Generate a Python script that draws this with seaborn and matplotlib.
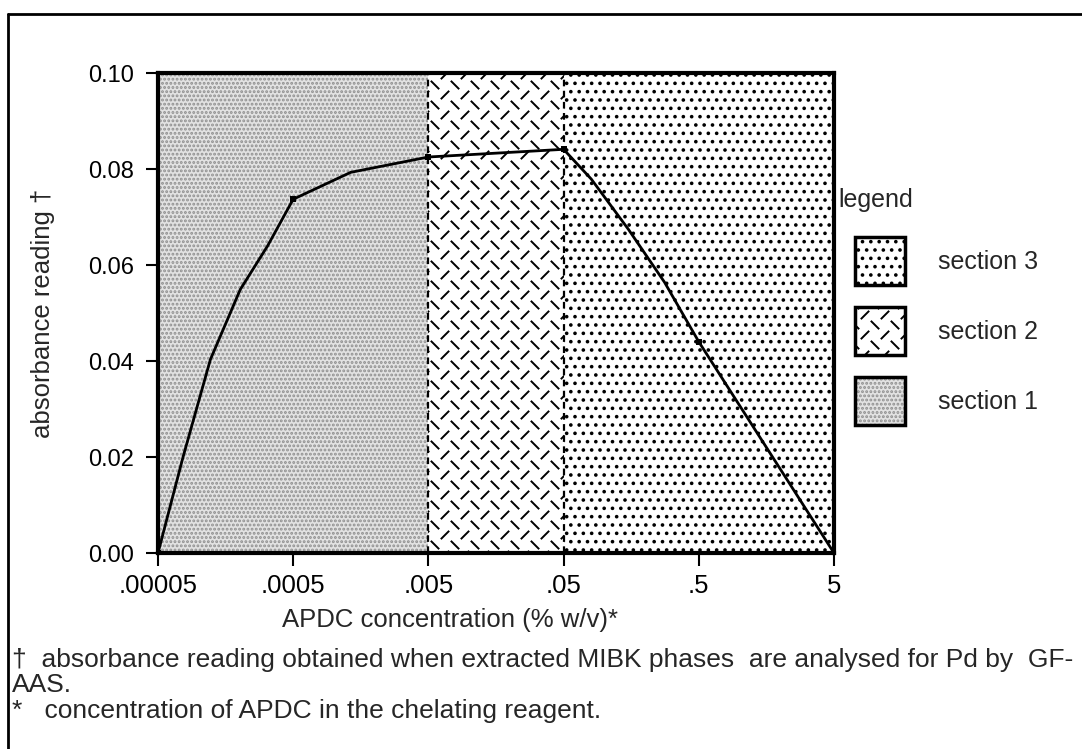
import numpy as np
import matplotlib
matplotlib.use("Agg")
import matplotlib.pyplot as plt
import seaborn as sns
from matplotlib import hatch as mhatch
from matplotlib.path import Path
from matplotlib.patches import Patch
from matplotlib.lines import Line2D
from matplotlib.legend_handler import HandlerTuple

# measured points
conc = [0.00005, 0.0005, 0.005, 0.05, 0.5, 5]
absorbance = [0.0, 0.0737, 0.0825, 0.0841, 0.0440, 0.0]

# the hand drawn curve
curve_conc = [0.00005, 0.0000766, 0.000122, 0.000203, 0.000322, 0.0005,
              0.00133, 0.005, 0.05, 0.0801, 0.151, 0.279, 0.5, 5]
curve_abs = [0.0, 0.0200, 0.0403, 0.0549, 0.0639, 0.0737,
             0.0793, 0.0825, 0.0841, 0.0779, 0.0674, 0.0564, 0.0440, 0.0]

section_edges = [0.00005, 0.005, 0.05, 5]
section_names = ["section 1", "section 2", "section 3"]

x_ticks = [0.00005, 0.0005, 0.005, 0.05, 0.5, 5]
x_tick_labels = [".00005", ".0005", ".005", ".05", ".5", "5"]
y_ticks = [0.0, 0.02, 0.04, 0.06, 0.08, 0.10]


class DashHatch(mhatch.HatchPatternBase):
    """Herringbone of short / and \\ dashes, takes the place of the '*' hatch."""

    def __init__(self, hatch, density):
        self.n = int(round(hatch.count("*") * density * 5 / 6))
        self.num_vertices = 4 * self.n * self.n

    def set_vertices_and_codes(self, vertices, codes):
        n = self.n
        d = 0.175 / n
        k = 0
        for i in range(n):
            for j in range(n):
                for off, s in ((0.25, 1), (0.75, -1)):
                    cx, cy = (i + off) / n, (j + off) / n
                    vertices[k] = (cx - d, cy - s * d)
                    vertices[k + 1] = (cx + d, cy + s * d)
                    codes[k] = Path.MOVETO
                    codes[k + 1] = Path.LINETO
                    k += 2


mhatch._hatch_types = [DashHatch if t is mhatch.Stars else t for t in mhatch._hatch_types]

sns.set_style("ticks")
plt.rcParams["font.family"] = ["Liberation Sans", "DejaVu Sans"]
plt.rcParams["hatch.linewidth"] = 1.4
FS = 17

grey_face = "#e2e2e2"
grey_dot = "#909090"
styles = [
    dict(facecolor=grey_face, edgecolor=grey_dot, hatch="...."),
    dict(facecolor="white", edgecolor="black", hatch="*"),
    dict(facecolor="white", edgecolor="black", hatch=".."),
]

fig = plt.figure(figsize=(10.82, 7.49), dpi=100)
ax = fig.add_axes([158 / 1082, 1 - 553 / 749, 676 / 1082, 480 / 749])

for k, st in enumerate(styles):
    ax.axvspan(section_edges[k], section_edges[k + 1], lw=0, zorder=0, **st)
for x in section_edges[1:-1]:
    ax.axvline(x, color="black", lw=1.6, ls=(0, (3, 2)), zorder=1)

sns.lineplot(x=curve_conc, y=curve_abs, sort=False, estimator=None,
             color="black", lw=2, ax=ax, zorder=3)
sns.scatterplot(x=conc, y=absorbance, marker="s", s=18, color="black",
                linewidth=0, ax=ax, zorder=4)

ax.set_xscale("log")
ax.set_xlim(section_edges[0], section_edges[-1])
ax.set_ylim(0, 0.10)
ax.set_xticks(x_ticks)
ax.set_xticklabels(x_tick_labels)
ax.minorticks_off()
ax.set_yticks(y_ticks)
ax.set_yticklabels([f"{v:.2f}" for v in y_ticks])
ax.tick_params(direction="out", length=9, width=1.5, labelsize=FS, pad=8, colors="black")
ax.tick_params(axis="x", labelsize=FS + 1.5, pad=6)
for sp in ax.spines.values():
    sp.set_linewidth(3)
    sp.set_color("black")
    sp.set_visible(True)
ax.set_xlabel("APDC concentration (% w/v)*", fontsize=FS + 1.5)
ax.xaxis.set_label_coords((450 - 158) / 676, -0.115)
ax.set_ylabel("absorbance reading \u2020", fontsize=FS + 1.5, labelpad=24)

# legend
fig.text(838 / 1082, 1 - 200 / 749, "legend", fontsize=FS + 1, va="center", ha="left")
h1 = (Patch(lw=0, **styles[0]), Patch(facecolor="none", edgecolor="black", lw=2.5))
h2 = Patch(lw=2.5, **styles[1])
h3 = Patch(lw=2.5, **styles[2])
fig.legend([h3, h2, h1], section_names[::-1], loc="upper left",
           bbox_to_anchor=(855 / 1082, 1 - 237 / 749), frameon=False,
           fontsize=FS + 1, handlelength=2.0, handleheight=2.58,
           labelspacing=0.88, handletextpad=1.3, borderpad=0, borderaxespad=0,
           handler_map={tuple: HandlerTuple(ndivide=1)})

# footnotes
FN = 19
fig.text(12 / 1082, 1 - 660 / 749,
         "\u2020  absorbance reading obtained when extracted MIBK phases  are analysed for Pd by  GF-",
         fontsize=FN, va="center", ha="left")
fig.text(12 / 1082, 1 - 685 / 749, "AAS.", fontsize=FN, va="center", ha="left")
fig.text(12 / 1082, 1 - 711 / 749, "*   concentration of APDC in the chelating reagent.",
         fontsize=FN, va="center", ha="left")

# outer frame
fig.add_artist(Line2D([8 / 1082, 1], [1 - 14 / 749] * 2, transform=fig.transFigure, color="black", lw=2))
fig.add_artist(Line2D([8 / 1082] * 2, [0, 1 - 14 / 749], transform=fig.transFigure, color="black", lw=2))

fig.savefig("out.png", dpi=100)
